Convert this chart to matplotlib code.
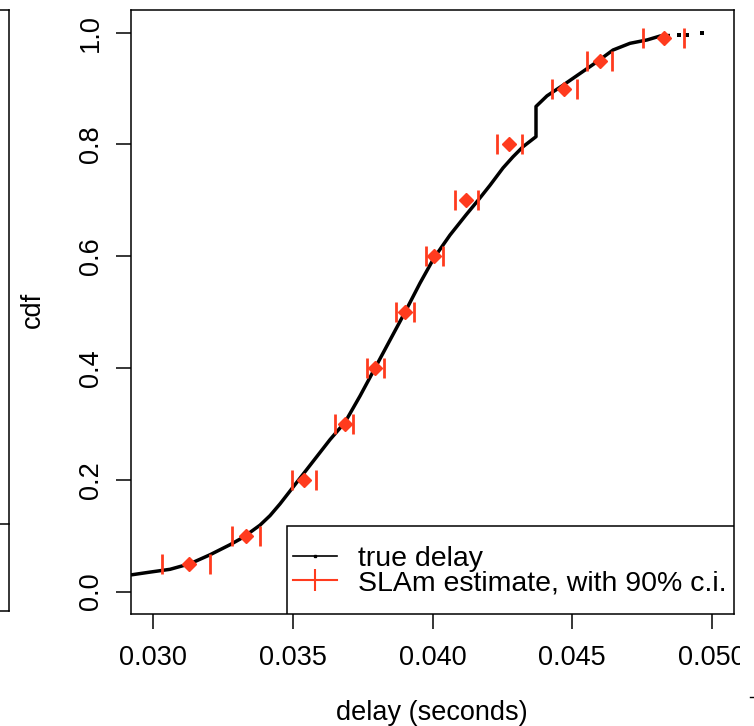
import matplotlib
matplotlib.use("Agg")
import matplotlib.pyplot as plt
from matplotlib.lines import Line2D
from matplotlib.patches import Rectangle
from matplotlib.transforms import Bbox, TransformedBbox

plt.rcParams['font.family'] = ['Liberation Sans', 'DejaVu Sans']

# true delay cdf
true_x = [0.029213, 0.029893, 0.030608, 0.031324, 0.032039, 0.032755, 0.033112,
          0.033470, 0.033828, 0.034186, 0.034544, 0.034902, 0.035259, 0.035617,
          0.035975, 0.036333, 0.036869, 0.037406, 0.037943, 0.038479, 0.039016,
          0.039553, 0.040054, 0.040626, 0.041199, 0.041628, 0.042057, 0.042522,
          0.042880, 0.043238, 0.043703, 0.043703, 0.044097, 0.044669, 0.045277,
          0.045886, 0.046458, 0.047066, 0.047674, 0.048140, 0.048497, 0.048820,
          0.049106, 0.049642]
true_y = [0.030, 0.035, 0.040, 0.050, 0.066, 0.084, 0.094,
          0.106, 0.119, 0.136, 0.157, 0.180, 0.203, 0.226,
          0.249, 0.272, 0.303, 0.350, 0.400, 0.450, 0.500,
          0.552, 0.597, 0.638, 0.674, 0.700, 0.727, 0.758,
          0.778, 0.796, 0.814, 0.868, 0.887, 0.906, 0.927,
          0.948, 0.969, 0.981, 0.987, 0.994, 0.995, 0.996,
          0.9965, 0.999]
n_tail = 3

# SLAm estimates with 90% c.i.
est_p = [0.05, 0.10, 0.20, 0.30, 0.40, 0.50, 0.60, 0.70, 0.80, 0.90, 0.95, 0.99]
est_x = [0.031288, 0.033327, 0.035402, 0.036869, 0.037943, 0.039016,
         0.040054, 0.041199, 0.042737, 0.044705, 0.045993, 0.048283]
ci_lo = [0.030322, 0.032826, 0.034973, 0.036512, 0.037656, 0.038694,
         0.039767, 0.040805, 0.042308, 0.044275, 0.045528, 0.047531]
ci_hi = [0.032039, 0.033828, 0.035832, 0.037156, 0.038265, 0.039338,
         0.040376, 0.041628, 0.043202, 0.045170, 0.046422, 0.048998]

xticks = [0.030, 0.035, 0.040, 0.045, 0.050]
xticklabels = ["0.030", "0.035", "0.040", "0.045", "0.050"]
yticks = [0.0, 0.2, 0.4, 0.6, 0.8, 1.0]
yticklabels = ["0.0", "0.2", "0.4", "0.6", "0.8", "1.0"]
legend_labels = ["true delay", "SLAm estimate, with 90% c.i."]

RED = '#FF3B1E'
FS = 19.5

W, H = 754, 726
fig = plt.figure(figsize=(W / 100, H / 100), dpi=100)
ax = fig.add_axes([131 / W, 1 - 613.7 / H, (734 - 131) / W, (613.7 - 10) / H])

ax.plot(true_x[:-n_tail], true_y[:-n_tail], color='black', lw=2.5,
        solid_capstyle='butt', zorder=2)
ax.plot(true_x[-n_tail:], true_y[-n_tail:], ls='none', marker='s',
        ms=2.3, mew=0, color='black', zorder=2)

ax.plot(ci_lo, est_p, ls='none', marker='|', ms=15, mew=2, color=RED, zorder=3)
ax.plot(ci_hi, est_p, ls='none', marker='|', ms=15, mew=2, color=RED, zorder=3)
ax.plot(est_x, est_p, ls='none', marker='D', ms=7.5, color=RED, mec=RED, zorder=4)

ax.set_xlim(0.029213, 0.050787)
ax.set_ylim(-0.0394, 1.0406)
ax.set_xticks(xticks)
ax.set_xticklabels(xticklabels, fontsize=FS)
ax.set_yticks(yticks)
ax.set_yticklabels(yticklabels, fontsize=FS, rotation=90, va='center')
ax.tick_params(axis='both', direction='out', length=10.5, width=1.1, color='black')
ax.tick_params(axis='x', pad=12)
ax.tick_params(axis='y', pad=9)
for s in ax.spines.values():
    s.set_linewidth(1.1)
    s.set_color('black')

clip = TransformedBbox(Bbox([[0, 0], [740 / W, 1]]), fig.transFigure)
for lab in ax.get_xticklabels():
    lab.set_clip_box(clip)
    lab.set_clip_on(True)

# legend box (R style, in the lower-right corner)
box_left = (287 - 131) / (734 - 131)
box_top = (613.7 - 526) / (613.7 - 10)
ax.add_patch(Rectangle((box_left, 0), 1 - box_left, box_top, transform=ax.transAxes,
                       facecolor='white', edgecolor='black', lw=1.1, zorder=5))

handles = [
    Line2D([], [], color='black', lw=1.2, marker='s', ms=1.5),
    Line2D([], [], color=RED, lw=1.5, marker='|', ms=16, mew=1.5),
]
leg = ax.legend(handles, legend_labels,
                loc='center left', bbox_to_anchor=(293 / W, 1 - 571 / H),
                bbox_transform=fig.transFigure, borderaxespad=0,
                fontsize=20.5, frameon=False, handlelength=1.55,
                handletextpad=0.72, labelspacing=-0.05, borderpad=0.0)
leg.set_zorder(6)

fig.text(33 / W, 1 - 310 / H, "cdf", rotation=90, ha='center', va='center', fontsize=FS)
fig.text(432 / W, 1 - 713 / H, "delay (seconds)", ha='center', va='center', fontsize=FS)

# fragments of neighbouring panels
fig.add_artist(Line2D([9 / W, 9 / W], [1 - 10 / H, 1 - 611 / H], transform=fig.transFigure, color='black', lw=1.1))
fig.add_artist(Line2D([0, 9 / W], [1 - 10 / H, 1 - 10 / H], transform=fig.transFigure, color='black', lw=1.1))
fig.add_artist(Line2D([0, 9 / W], [1 - 611 / H, 1 - 611 / H], transform=fig.transFigure, color='black', lw=1.1))
fig.add_artist(Line2D([0, 9 / W], [1 - 524 / H, 1 - 524 / H], transform=fig.transFigure, color='black', lw=1.1))
fig.add_artist(Line2D([750 / W, 1], [1 - 697 / H, 1 - 697 / H], transform=fig.transFigure, color='black', lw=1.0))

fig.savefig("out.png", dpi=100)
